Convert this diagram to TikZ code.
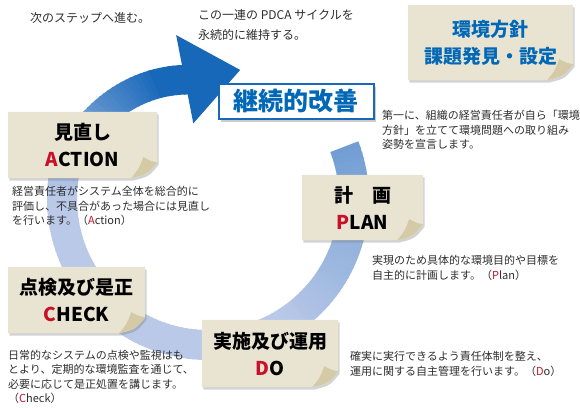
\documentclass[tikz,border=0pt]{standalone}
\usepackage{fontspec}
\setmainfont{Noto Sans CJK JP}
\usetikzlibrary{backgrounds, shadows}
\definecolor{ringdark}{RGB}{24,104,186}
\definecolor{ringlight}{RGB}{186,201,232}
\definecolor{notecol}{RGB}{233,228,210}
\definecolor{foldcol}{RGB}{212,202,165}
\definecolor{textblue}{RGB}{0,104,183}
\definecolor{pdcared}{RGB}{200,16,40}
\definecolor{bodytext}{RGB}{45,45,45}

\begin{document}
\begin{tikzpicture}[x=1pt, y=-1pt,
    note/.style={align=center, inner sep=0pt, font=\fontsize{19}{27}\selectfont\bfseries, text=black},
    desc/.style={anchor=west, align=left, inner sep=0pt, font=\fontsize{11}{14.5}\selectfont, text=bodytext},
    pdca/.style={text=pdcared}]
    \useasboundingbox (0,0) rectangle (580,407);
    \def\cx{208}
    \def\cy{199}

    \node[note, minimum width=165pt, minimum height=75pt, text=textblue] (env) at (490.5,42.5) {環境方針\\課題発見・設定};
    \node[note, minimum width=149pt, minimum height=66pt] (act) at (82.5,145) {見直し\\\textcolor{pdcared}{A}CTION};
    \node[note, minimum width=121pt, minimum height=65pt] (plan) at (362.5,207.5) {計　画\\\textcolor{pdcared}{P}LAN};
    \node[note, minimum width=137pt, minimum height=66pt] (chk) at (76.5,300) {点検及び是正\\\textcolor{pdcared}{C}HECK};
    \node[note, minimum width=136pt, minimum height=67pt] (do) at (270,353.5) {実施及び運用\\\textcolor{pdcared}{D}O};
    \node[fill=white, draw=ringdark, line width=2pt, minimum width=155pt, minimum height=35pt,
          font=\fontsize{25}{25}\selectfont\bfseries, text=textblue,
          drop shadow={shadow xshift=2pt, shadow yshift=-2.5pt, opacity=0.4}] (kaizen) at (296,101.5) {継続的改善};

    \node[desc, font=\fontsize{12}{20}\selectfont] (step) at (30,18) {次のステップへ進む。};
    \node[desc, font=\fontsize{12}{20}\selectfont] (keep) at (198,25) {この一連の PDCA サイクルを\\永続的に維持する。};
    \node[desc] (envtxt) at (382,130) {第一に、組織の経営責任者が自ら「環境\\方針」を立てて環境問題への取り組み\\姿勢を宣言します。};
    \node[desc] (acttxt) at (12,206) {経営責任者がシステム全体を総合的に\\評価し、不具合があった場合には見直し\\を行います。（\textcolor{pdcared}{A}ction）};
    \node[desc] (plantxt) at (372,268) {実現のため具体的な環境目的や目標を\\自主的に計画します。（\textcolor{pdcared}{P}lan）};
    \node[desc] (chktxt) at (8,377) {日常的なシステムの点検や監視はも\\とより、定期的な環境監査を通じて、\\必要に応じて是正処置を講じます。\\（\textcolor{pdcared}{C}heck）};
    \node[desc] (dotxt) at (350,364) {確実に実行できるよう責任体制を整え、\\運用に関する自主管理を行います。（\textcolor{pdcared}{D}o）};

    \begin{pgfonlayer}{background}
        \begin{scope}[shift={(\cx,\cy)}]
            \foreach \a in {-21,-19,...,257}{
                \pgfmathsetmacro\b{\a+2.6}
                \pgfmathsetmacro\ra{\a<190 ? 146 : 146-(\a-190)*0.355}
                \pgfmathsetmacro\rb{\b<190 ? 146 : 146-(\b-190)*0.355}
                \pgfmathsetmacro\ria{\ra-15}
                \pgfmathsetmacro\roa{\ra+15}
                \pgfmathsetmacro\rib{\rb-15}
                \pgfmathsetmacro\rob{\rb+15}
                \pgfmathtruncatemacro\p{max(0,(60-\a)/81*45,min(100,(\a-180)/65*100))}
                \fill[ringdark!\p!ringlight] (\a:\ria) -- (\a:\roa) -- (\b:\rob) -- (\b:\rib) -- cycle;
            }
            \fill[ringdark] (259:77) -- (259:167) -- (284:133) -- cycle;
        \end{scope}
        \foreach \n in {env, act, plan, chk, do}{
            \fill[notecol, drop shadow={shadow xshift=1.5pt, shadow yshift=-2.5pt, opacity=0.35}]
                (\n.north west) -- (\n.north east) -- ([yshift=16pt]\n.south east)
                .. controls ([xshift=-10pt, yshift=4pt]\n.south east) .. ([xshift=-26pt]\n.south east)
                -- (\n.south west) -- cycle;
            \fill[foldcol] ([yshift=16pt]\n.south east)
                .. controls ([xshift=-6pt, yshift=17pt]\n.south east) .. ([xshift=-14pt, yshift=21pt]\n.south east)
                .. controls ([xshift=-18pt, yshift=10pt]\n.south east) .. ([xshift=-26pt]\n.south east)
                .. controls ([xshift=-10pt, yshift=4pt]\n.south east) .. cycle;
        }
    \end{pgfonlayer}
\end{tikzpicture}
\end{document}
